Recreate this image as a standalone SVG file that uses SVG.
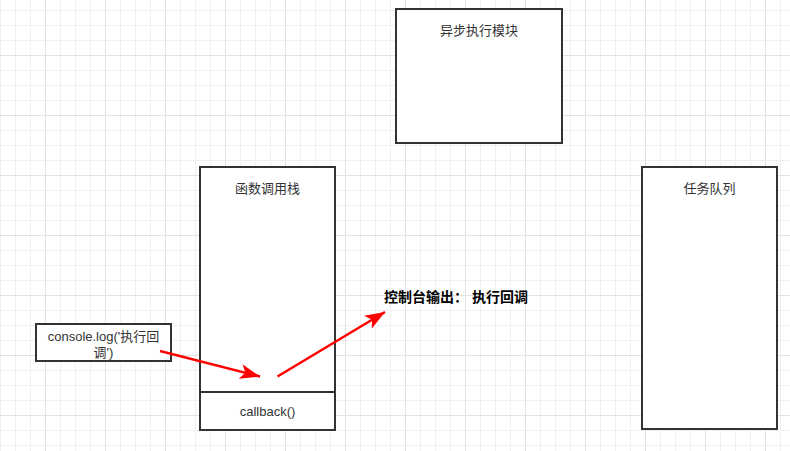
<svg xmlns="http://www.w3.org/2000/svg" width="790" height="451" viewBox="0 0 790 451">
<style>
.box{fill:#fff;stroke:#333;stroke-width:2}
.lbl{font-family:"Liberation Sans","Noto Sans CJK SC",sans-serif;font-size:13px;fill:#333;text-anchor:middle;dominant-baseline:central}
.bold{font-family:"Liberation Sans","Noto Sans CJK SC",sans-serif;font-size:14px;font-weight:bold;fill:#000;text-anchor:middle;dominant-baseline:central}
.arr{stroke:#ff0000;stroke-width:2.5;fill:none}
</style>
<defs>
<pattern id="grid" width="60" height="60" x="45" y="55" patternUnits="userSpaceOnUse">
<path d="M15 0V60M30 0V60M45 0V60M0 15H60M0 30H60M0 45H60" stroke="#f0f0f0" stroke-width="1" fill="none" transform="translate(0.5 0.5)"/>
<path d="M0 0V60M0 0H60" stroke="#e2e2e2" stroke-width="1" fill="none" transform="translate(0.5 0.5)"/>
</pattern>
<marker id="ah" markerUnits="userSpaceOnUse" markerWidth="22" markerHeight="16" refX="20" refY="8" orient="auto">
<path d="M0 0.5L20 8L0 15.5L5 8Z" fill="#ff0000"/>
</marker>
</defs>
<rect width="790" height="451" fill="#fff"/>
<rect width="790" height="451" fill="url(#grid)"/>
<g id="async-module">
<rect class="box" x="396" y="9" width="166" height="134"/>
<text class="lbl" x="479" y="30">异步执行模块</text>
</g>
<g id="call-stack">
<rect class="box" x="200" y="167" width="135" height="263"/>
<text class="lbl" x="267.5" y="188">函数调用栈</text>
<line x1="200" y1="392" x2="335" y2="392" stroke="#333" stroke-width="2"/>
<text class="lbl" x="267.5" y="411">callback()</text>
</g>
<g id="task-queue">
<rect class="box" x="642" y="167" width="135" height="262"/>
<text class="lbl" x="709.5" y="188">任务队列</text>
</g>
<g id="console-log">
<rect class="box" x="36" y="324" width="135" height="37"/>
<text class="lbl" x="103.5" y="336">console.log('执行回</text>
<text class="lbl" x="103.5" y="352">调')</text>
</g>
<g id="output">
<text class="bold" x="456" y="297">控制台输出： 执行回调</text>
</g>
<g id="connectors">
<line class="arr" x1="160" y1="351" x2="260" y2="376.5" marker-end="url(#ah)"/>
<line class="arr" x1="277.5" y1="376.5" x2="385" y2="312" marker-end="url(#ah)"/>
</g>
</svg>
